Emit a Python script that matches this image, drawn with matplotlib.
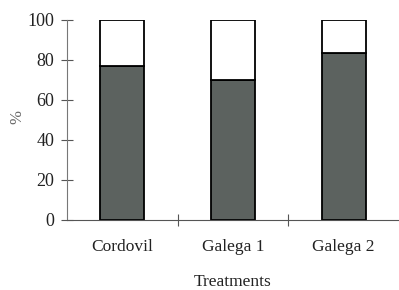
import matplotlib
matplotlib.use('Agg')
import matplotlib.pyplot as plt
import numpy as np

treatments = ['Cordovil', 'Galega 1', 'Galega 2']
dark_pct = [77, 70, 83.5]   # shaded part of each bar (%)
white_pct = [100 - v for v in dark_pct]

plt.rcParams['font.family'] = ['Liberation Serif', 'DejaVu Serif']

fig = plt.figure(figsize=(3.99, 2.90), dpi=100)
ax = fig.add_axes([0.168, 0.2414, 0.832, 0.6897])

x = np.arange(len(treatments))
ax.bar(x, dark_pct, width=0.4, color='#5c625f', edgecolor='black', linewidth=1.3)
ax.bar(x, white_pct, width=0.4, bottom=dark_pct, color='white', edgecolor='black', linewidth=1.3)

ax.set_xlim(-0.5, 2.5)
ax.set_ylim(0, 100)
ax.set_yticks([0, 20, 40, 60, 80, 100])
ax.set_xticks([0.5, 1.5])
ax.set_xticklabels([])
for xi, name in zip(x, treatments):
    ax.text(xi, -13.5, name, ha='center', va='center', fontsize=12.5, color='#222222')

ax.spines['top'].set_visible(False)
ax.spines['right'].set_visible(False)
ax.spines['left'].set_color('#777777')
ax.spines['bottom'].set_color('#555555')
ax.tick_params(axis='y', direction='inout', length=8, color='#555555', labelsize=13, labelcolor='#222222', pad=5)
ax.tick_params(axis='x', direction='inout', length=8, color='#555555')

ax.set_ylabel('%', fontsize=12, color='#666666')
ax.yaxis.set_label_coords(-0.125, 0.515)
ax.text(1, -31, 'Treatments', ha='center', va='center', fontsize=12.5, color='#222222')

fig.savefig('out.png', dpi=100)
